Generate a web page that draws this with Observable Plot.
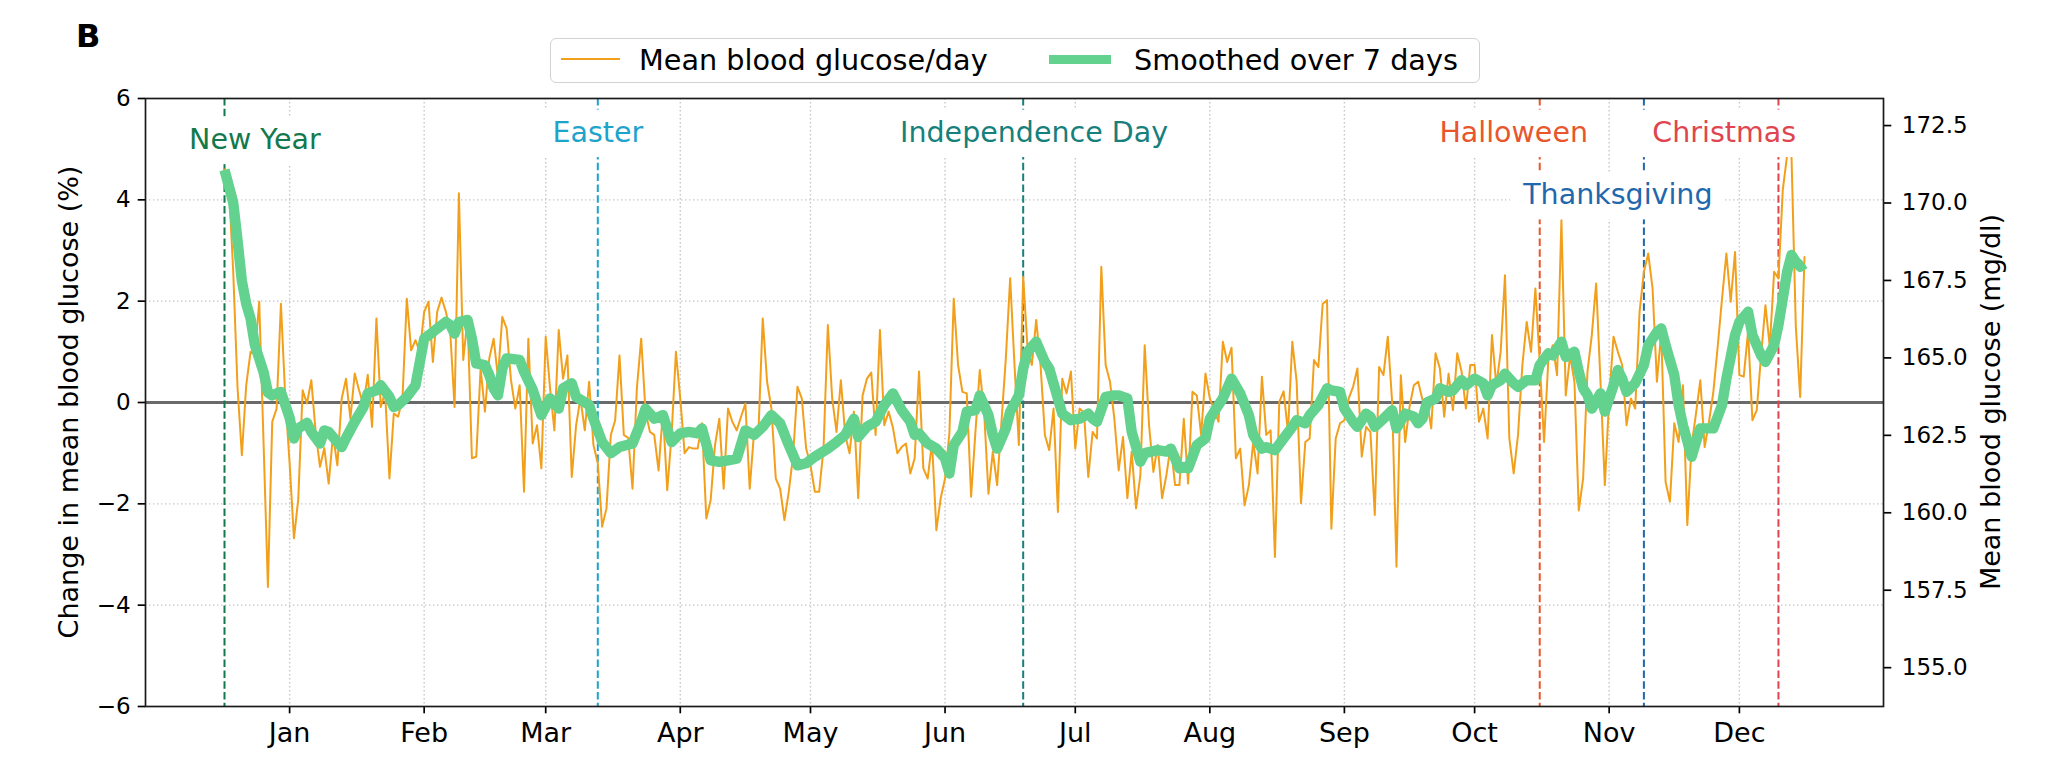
<!DOCTYPE html>
<html><head><meta charset="utf-8">
<script src="https://cdn.jsdelivr.net/npm/d3@7"></script>
<script src="https://cdn.jsdelivr.net/npm/@observablehq/plot@0.6"></script>
<style>
html,body{margin:0;padding:0;background:#fff;}
#wrap{position:relative;width:2048px;height:765px;font-family:"DejaVu Sans",sans-serif;color:#000;overflow:hidden;}
#wrap svg{position:absolute;left:0;top:0;}
.abs{position:absolute;white-space:nowrap;line-height:1;}
.rot{transform:translate(-50%,-50%) rotate(-90deg);}
#legend{position:absolute;left:550px;top:38px;width:930px;height:45px;box-sizing:border-box;border:1.5px solid #d2d2d2;border-radius:6px;background:rgba(255,255,255,0.85);}
</style></head>
<body><div id="wrap"></div>
<script>
// ---------- data ----------
const BASE_YEAR = 2005;
// daily change in mean blood glucose (%), Jan 1 .. Dec 31
const dailyChange = [
  4.6, 4.3, 2.6, 0.3, -1.04, 0.34, 1.0, 0.95, 1.99, -0.8,
  -3.64, -0.38, -0.12, 1.95, 0.1, -1.2, -2.68, -1.9, 0.24, -0.02,
  0.44, -0.58, -1.27, -0.9, -1.6, -0.64, -1.24, 0.08, 0.47, -0.32,
  0.57, 0.24, -0.05, 0.55, -0.48, 1.66, -0.09, 0.2, -1.5, -0.22,
  -0.28, 0.08, 2.05, 1.03, 1.23, 1.0, 1.79, 1.99, 0.8, 1.79,
  2.07, 1.79, 1.4, -0.09, 4.13, 0.84, 1.66, -1.1, -1.07, 0.67,
  -0.18, 0.87, 1.26, 0.5, 1.69, 1.46, 0.44, -0.12, 0.34, -1.76,
  1.26, -0.81, -0.45, -1.3, 1.3, 0.28, -0.55, 1.43, 0.47, 0.93,
  -1.47, -0.45, 0.08, -0.55, 0.41, -0.84, -1.2, -2.45, -2.09, -0.64,
  -0.35, 0.93, -0.64, -0.7, -1.7, 0.28, 1.26, -0.18, -0.58, -0.64,
  -1.34, -0.18, -1.73, -0.64, 1.0, 0.08, -1.0, -0.88, -0.91, -0.91,
  -0.41, -2.29, -1.93, -0.84, -0.32, -1.7, -0.12, -0.38, -0.55, -0.28,
  -0.02, -1.7, -0.58, -0.6, 1.66, 0.41, -0.12, -1.5, -1.7, -2.32,
  -1.76, -1.04, 0.31, 0.08, -0.91, -1.24, -1.76, -1.76, -0.91, 1.53,
  0.08, -0.58, 0.44, -0.64, -1.0, -0.18,
  -1.89, 0.14, 0.47, 0.59, -0.64, 1.43, -0.45, -0.18, -0.5, -1.0,
  -0.88, -0.81, -1.4, -1.1, 0.61, -1.3, -1.5, -0.78, -2.52, -1.89,
  -1.5, -0.6, 2.05, 0.74, 0.21, 0.18, -1.86, -0.58, 0.64, -0.18,
  -1.8, -0.97, -1.63, -0.38, 0.87, 2.45, 0.74, -0.84, 2.48, 1.07,
  0.74, 1.63, 0.74, -0.64, -0.94, -0.12, -2.16, 0.47, 0.18, 0.61,
  -0.91, -0.12, -0.2, -1.47, -0.58, -0.71, 2.68, 0.74, 0.41, -0.32,
  -1.34, -0.68, -1.89, -0.97, -2.09, -1.43, 1.13, -0.45, -1.37, -0.84,
  -1.89, -1.43, -0.84, -1.63, -1.63, -0.32,
  -1.6, 0.21, 0.14, -0.64, 0.57, 0.08, -0.15, -0.38, 1.2, 0.8,
  1.08, -1.1, -0.91, -2.03, -1.63, -0.78, -1.4, 0.51, -0.64, -0.55,
  -3.05, 0.01, 0.22, -0.58, 1.2, 0.41, -1.99, -0.78, -0.71, 0.84,
  0.7, 1.95, 2.02, -2.49, -0.71, -0.41, -0.35, 0.08, 0.31, 0.67,
  -1.07, -0.48, -0.58, -2.22, 0.7, 0.54, 1.3, 0.01, -3.24, 0.54,
  -0.78, -0.09, 0.34, 0.41, 0.05, 0.05, -0.51, 0.97, 0.67, -0.28,
  0.57, -0.15, 0.97, 0.61, -0.12, 0.74, 0.74, -0.38, -0.12, -0.71,
  1.33, 0.34, 1.0, 2.51,
  -0.71, -1.4, -0.64, 0.74, 1.59, 1.0, 2.25, 0.8, -0.78, 0.87,
  1.13, 0.54, 3.6, 0.14, 0.93, 0.41, -2.13, -1.5, 0.61, 1.33,
  2.35, 0.41, -1.63, 0.08, 1.3, 1.0, 0.74, -0.45, 0.08, -0.12,
  1.79, 2.58, 2.94, 2.25, 0.41, 1.39, -1.57, -1.96, -0.41, -0.78,
  0.34, -2.42, -0.84, -0.22, 0.44, -0.88, -0.38, 0.21, 1.1, 2.05,
  2.94, 1.99, 2.97, 0.54, 0.51, 1.4, -0.35, -0.15, 0.93, 1.92,
  1.1, 2.58, 2.45, 4.2, 4.88, 4.88, 1.5, 0.11, 2.87
];
// smoothed (7-day) series: day of year (0 = Jan 1) and value (%)
const smoothDay = [
  0,2,3,4,5,6,7,9,10,11,12,13,15,16,17,19,20,22,23,24,26,27,28,30,32,33,35,36,38,39,
  40,42,44,45,46,48,49,51,52,53,54,56,57,58,60,61,62,63,64,65,68,69,71,73,75,77,78,80,81,84,
  85,87,89,91,94,96,97,99,101,103,105,107,109,110,112,114,116,118,120,122,124,126,128,130,132,134,136,139,141,143,
  145,146,148,150,152,154,156,158,159,160,162,164,166,167,168,170,171,173,174,176,177,178,180,181,183,184,185,187,189,190,
  192,193,195,197,199,200,201,203,205,206,208,209,211,212,215,217,218,220,221,222,224,226,227,228,230,232,234,236,237,239,
  240,242,244,246,247,249,250,252,254,255,257,258,260,261,263,264,265,267,269,270,272,274,275,276,277,279,280,282,283,285,
  286,288,290,291,292,294,295,297,298,300,302,303,305,306,308,309,311,312,313,314,315,317,318,320,321,322,323,325,327,328,
  330,331,332,334,335,336,338,339,340,342,343,345,346,348,349,351,352,354,355,357,358,359,360,361,362,363,364
];
const smoothChange = [
  4.59,3.95,3.2,2.4,1.95,1.66,1.13,0.6,0.2,0.14,0.18,0.21,-0.3,-0.71,-0.51,-0.4,-0.58,-0.81,-0.55,-0.58,-0.78,-0.88,-0.7,-0.38,-0.09,0.18,0.24,0.34,0.11,-0.09,
  -0.05,0.11,0.34,0.8,1.26,1.39,1.46,1.59,1.53,1.36,1.59,1.63,1.26,0.77,0.74,0.54,0.28,0.14,0.67,0.87,0.84,0.61,0.25,-0.25,0.08,-0.12,0.28,0.38,0.11,-0.05,
  -0.32,-0.78,-1.0,-0.88,-0.81,-0.38,-0.12,-0.32,-0.25,-0.78,-0.61,-0.58,-0.61,-0.51,-1.14,-1.17,-1.14,-1.11,-0.55,-0.64,-0.48,-0.25,-0.41,-0.84,-1.24,-1.2,-1.07,-0.91,-0.78,-0.64,
  -0.32,-0.68,-0.48,-0.38,-0.05,0.18,-0.15,-0.38,-0.64,-0.61,-0.81,-0.91,-1.1,-1.4,-0.84,-0.58,-0.18,-0.15,0.14,-0.25,-0.64,-0.91,-0.51,-0.18,0.14,0.67,1.0,1.2,0.8,0.67,
  0.08,-0.22,-0.35,-0.32,-0.22,-0.32,-0.38,0.11,0.14,0.14,0.08,-0.58,-1.17,-1.0,-0.94,-0.97,-0.91,-1.3,-1.27,-1.3,-0.84,-0.71,-0.32,-0.18,0.08,0.47,0.18,-0.25,-0.64,-0.91,
  -0.88,-0.94,-0.71,-0.48,-0.35,-0.41,-0.25,-0.05,0.28,0.24,0.21,-0.12,-0.38,-0.48,-0.22,-0.28,-0.48,-0.32,-0.15,-0.51,-0.22,-0.28,-0.41,-0.32,0.0,0.08,0.28,0.21,0.24,0.44,
  0.34,0.47,0.38,0.14,0.34,0.44,0.57,0.38,0.31,0.44,0.44,0.74,0.97,0.93,1.2,0.9,1.0,0.61,0.28,0.15,-0.12,0.18,-0.18,0.34,0.64,0.47,0.21,0.38,0.74,1.13,
  1.39,1.46,1.13,0.54,-0.05,-0.45,-1.07,-0.78,-0.51,-0.51,-0.51,-0.05,0.47,1.33,1.59,1.79,1.33,0.93,0.8,1.13,1.53,2.05,2.58,2.91,2.78,2.68,2.74
];
const monthNames = ["Jan","Feb","Mar","Apr","May","Jun","Jul","Aug","Sep","Oct","Nov","Dec"];
const holidayNames = ["New Year","Easter","Independence Day","Halloween","Thanksgiving","Christmas"];
const holidayDates = ["2005-01-01","2005-03-28","2005-07-04","2005-10-31","2005-11-24","2005-12-25"];
const holidayLabelDates = ["2005-01-08","2005-03-28","2005-07-06T12:00Z","2005-10-25","2005-11-18","2005-12-12T12:00Z"];
const holidayLabelLevels = [5.19, 5.33, 5.33, 5.33, 4.10, 5.33];
const holidayColors = ["#13794c","#1ea3cc","#16807c","#e8562c","#1f68ad","#e0454f"];
const leftTickValues = [-6,-4,-2,0,2,4,6];
const glucoseTicks = [155,157.5,160,162.5,165,167.5,170,172.5];
const meanGlucose = 163.56;
const seriesNames = ["Mean blood glucose/day","Smoothed over 7 days"];

// ---------- build tables ----------
const DAY = 864e5;
const day0 = Date.UTC(BASE_YEAR,0,1);
const daily = dailyChange.map((v,i)=>({date:new Date(day0+i*DAY), value:v}));
const smooth = smoothDay.map((d,i)=>({date:new Date(day0+d*DAY), value:smoothChange[i]}));
const holidays = holidayNames.map((name,i)=>({name, date:new Date(holidayDates[i]), labelDate:new Date(holidayLabelDates[i]), level:holidayLabelLevels[i], color:holidayColors[i]}));
const monthTicks = monthNames.map((m,i)=>new Date(Date.UTC(BASE_YEAR,i,16)));
const pctOf = mg => (mg/meanGlucose - 1)*100;
const ORANGE = "#f2a01c", GREEN = "#62d28e";
const gridStyle = {stroke:"#c6c6c6", strokeOpacity:1, strokeWidth:1.4, strokeDasharray:"1.4,2.6"};

const chart = Plot.plot({
  width: 2048, height: 765,
  marginTop: 98, marginBottom: 59, marginLeft: 145, marginRight: 165,
  style: {fontFamily: "'DejaVu Sans', sans-serif", color: "#000", background: "transparent"},
  x: {type: "utc", domain: [new Date(day0 - 18.2*DAY), new Date(day0 + 382.2*DAY)], label: null},
  y: {domain: [-6, 6], label: null},
  color: {type: "identity"},
  marks: [
    Plot.gridY([-4,-2,2,4], gridStyle),
    Plot.gridX(monthTicks, gridStyle),
    Plot.ruleY([0], {stroke:"#6a6a6a", strokeWidth:3}),
    Plot.ruleX(holidays, {x:"date", stroke:"color", strokeWidth:2, strokeDasharray:"7.5,3.3"}),
    Plot.lineY(daily, {x:"date", y:"value", stroke:ORANGE, strokeWidth:2, strokeLinejoin:"round"}),
    Plot.lineY(smooth, {x:"date", y:"value", stroke:GREEN, strokeWidth:10.4, strokeLinejoin:"round", strokeLinecap:"butt"}),
    Plot.text(holidays, {x:"labelDate", y:"level", text:"name", fill:"color", fontSize:28.5, textAnchor:"middle", lineAnchor:"middle"}),
    Plot.axisX(monthTicks, {tickFormat: d => monthNames[d.getUTCMonth()], fontSize:27, tickSize:7.3, tickPadding:9, strokeWidth:1.7, label:null}),
    Plot.axisY(leftTickValues, {anchor:"left", tickFormat: d => d < 0 ? "\u2212" + (-d) : String(d), fontSize:23, tickSize:7.3, tickPadding:7.5, strokeWidth:1.7, label:null}),
    Plot.axisY(glucoseTicks.map(pctOf), {anchor:"right", tickFormat: d => (meanGlucose*(1+d/100)).toFixed(1), fontSize:23, tickSize:7.3, tickPadding:11, strokeWidth:1.7, label:null}),
    Plot.frame({stroke:"#1a1a1a", strokeWidth:1.7})
  ]
});

const wrap = document.getElementById("wrap");
wrap.appendChild(chart);

// white boxes behind holiday labels
chart.querySelectorAll('g[aria-label="text"] text').forEach(t => {
  const b = t.getBBox();
  const r = document.createElementNS("http://www.w3.org/2000/svg","rect");
  r.setAttribute("x", b.x - 12);
  r.setAttribute("y", b.y - 6);
  r.setAttribute("width", b.width + 24);
  r.setAttribute("height", b.height + 14.5);
  r.setAttribute("fill", "white");
  const tr = t.getAttribute("transform");
  if (tr) r.setAttribute("transform", tr);
  t.parentNode.insertBefore(r, t);
});

// ---------- HTML text: panel letter, axis titles, legend ----------
function addText(txt, left, baseline, size, extra) {
  const d = document.createElement("div");
  d.className = "abs";
  d.textContent = txt;
  d.style.left = left + "px";
  d.style.top = (baseline - 0.846*size) + "px";
  d.style.fontSize = size + "px";
  if (extra) Object.assign(d.style, extra);
  wrap.appendChild(d);
  return d;
}
addText("B", 76, 47.5, 32, {fontWeight:"bold"});

function addTitle(txt, cx, cy, size) {
  const d = document.createElement("div");
  d.className = "abs rot";
  d.textContent = txt;
  d.style.left = cx + "px";
  d.style.top = cy + "px";
  d.style.fontSize = size + "px";
  wrap.appendChild(d);
}
addTitle("Change in mean blood glucose (%)", 68, 402, 27);
addTitle("Mean blood glucose (mg/dl)", 1990, 402, 27);

const legend = document.createElement("div");
legend.id = "legend";
wrap.appendChild(legend);
function swatch(left, top, w, h, color) {
  const s = document.createElement("div");
  s.style.cssText = `position:absolute;left:${left}px;top:${top}px;width:${w}px;height:${h}px;background:${color};`;
  wrap.appendChild(s);
}
swatch(561, 57.7, 59, 2, ORANGE);
addText(seriesNames[0], 639, 70, 28.7);
swatch(1049, 54.7, 62, 9, GREEN);
addText(seriesNames[1], 1134, 70, 28.7);
</script>
</body></html>
